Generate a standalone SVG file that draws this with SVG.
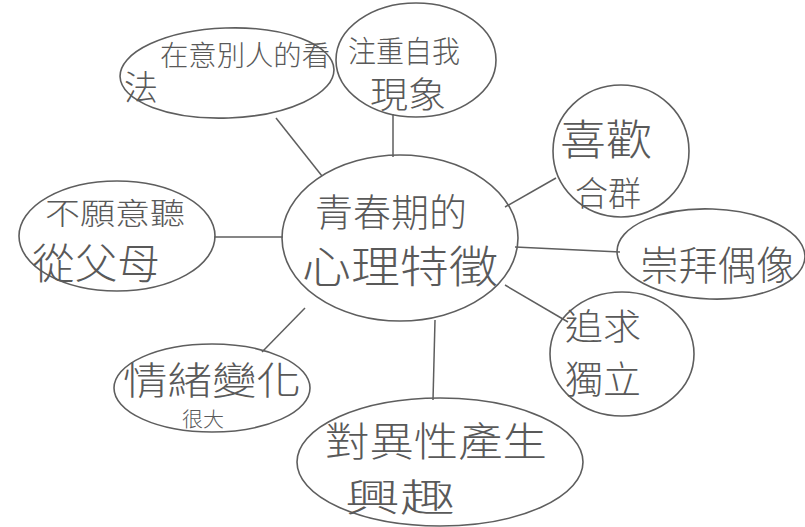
<svg xmlns="http://www.w3.org/2000/svg" width="805" height="527" viewBox="0 0 805 527">
<style>
.b{fill:none;stroke:#5e5e5e;stroke-width:1.6}
.c{stroke:#5e5e5e;stroke-width:1.5;fill:none}
text{font-family:"Noto Sans CJK TC","Noto Sans CJK SC",sans-serif;fill:#595959;font-weight:300}
</style>
<rect width="805" height="527" fill="#fff"/>
<g id="connectors">
<line class="c" x1="276" y1="118" x2="322" y2="176"/>
<line class="c" x1="393" y1="114" x2="393" y2="157"/>
<line class="c" x1="505" y1="207" x2="556" y2="178"/>
<line class="c" x1="515" y1="247" x2="620" y2="252"/>
<line class="c" x1="505" y1="285" x2="568" y2="322"/>
<line class="c" x1="435" y1="320" x2="433" y2="400"/>
<line class="c" x1="305" y1="308" x2="262" y2="352"/>
<line class="c" x1="214" y1="237" x2="283" y2="237"/>
</g>
<g id="center">
<ellipse class="b" cx="400" cy="238" rx="118" ry="83"/>
<text x="315" y="226" font-size="38" textLength="152" lengthAdjust="spacingAndGlyphs">青春期的</text>
<text x="302" y="283" font-size="44" textLength="196" lengthAdjust="spacingAndGlyphs">心理特徵</text>
</g>
<g id="n1">
<ellipse class="b" cx="227" cy="73" rx="107" ry="45" transform="rotate(-2 227 73)"/>
<text x="160" y="66" font-size="28" textLength="170" lengthAdjust="spacingAndGlyphs">在意別人的看</text>
<text x="124" y="100" font-size="34">法</text>
</g>
<g id="n2">
<ellipse class="b" cx="416" cy="60" rx="80" ry="57"/>
<text x="348" y="62" font-size="30" textLength="112" lengthAdjust="spacingAndGlyphs">注重自我</text>
<text x="370" y="108" font-size="36" textLength="76" lengthAdjust="spacingAndGlyphs">現象</text>
</g>
<g id="n3">
<ellipse class="b" cx="621" cy="151" rx="68" ry="66"/>
<text x="560" y="155" font-size="42" textLength="92" lengthAdjust="spacingAndGlyphs">喜歡</text>
<text x="575" y="206" font-size="34" textLength="66" lengthAdjust="spacingAndGlyphs">合群</text>
</g>
<g id="n4">
<ellipse class="b" cx="711" cy="254" rx="94" ry="45" transform="rotate(2 711 254)"/>
<text x="640" y="280" font-size="40" textLength="155" lengthAdjust="spacingAndGlyphs">崇拜偶像</text>
</g>
<g id="n5">
<ellipse class="b" cx="622" cy="354" rx="72" ry="62"/>
<text x="565" y="340" font-size="36" textLength="76" lengthAdjust="spacingAndGlyphs">追求</text>
<text x="565" y="393" font-size="38" textLength="76" lengthAdjust="spacingAndGlyphs">獨立</text>
</g>
<g id="n6">
<ellipse class="b" cx="440" cy="462" rx="143" ry="64"/>
<text x="325" y="456" font-size="40" textLength="222" lengthAdjust="spacingAndGlyphs">對異性產生</text>
<text x="345" y="511" font-size="38" textLength="110" lengthAdjust="spacingAndGlyphs">興趣</text>
</g>
<g id="n7">
<ellipse class="b" cx="212" cy="388" rx="98" ry="44"/>
<text x="123" y="394" font-size="38" textLength="178" lengthAdjust="spacingAndGlyphs">情緒變化</text>
<text x="182" y="427" font-size="20" textLength="42" lengthAdjust="spacingAndGlyphs">很大</text>
</g>
<g id="n8">
<ellipse class="b" cx="117" cy="236" rx="98" ry="55"/>
<text x="45" y="224" font-size="30" textLength="140" lengthAdjust="spacingAndGlyphs">不願意聽</text>
<text x="32" y="279" font-size="42" textLength="128" lengthAdjust="spacingAndGlyphs">從父母</text>
</g>
</svg>
